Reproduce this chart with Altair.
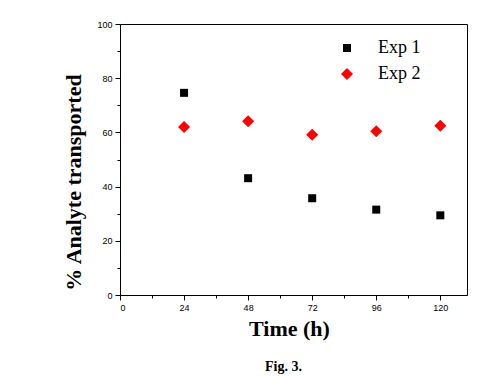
import altair as alt
import pandas as pd

# ---- data ----
time_h = [24, 48, 72, 96, 120]
exp1 = [74.6, 43.1, 35.7, 31.5, 29.4]
exp2 = [62.0, 64.1, 59.1, 60.4, 62.5]
series = ["Exp 1", "Exp 2"]
x_major = [0, 24, 48, 72, 96, 120]
x_minor = [12, 36, 60, 84, 108]
y_major = [0, 20, 40, 60, 80, 100]
y_minor = [10, 30, 50, 70, 90]

df = pd.DataFrame({
    "time": time_h * 2,
    "value": exp1 + exp2,
    "series": [series[0]] * len(time_h) + [series[1]] * len(time_h),
})

SERIF = "Liberation Serif"
SANS = "Liberation Sans"
W, H = 347, 271

xscale = alt.Scale(domain=[0, 130], nice=False, zero=False)
yscale = alt.Scale(domain=[0, 100], nice=False)

legend = alt.Legend(
    title=None, orient="none", legendX=218, legendY=15,
    labelFont=SERIF, labelFontSize=18, labelColor="black",
    labelOffset=22, rowPadding=8, symbolStrokeWidth=0, padding=0,
)

TITLE_STYLE = dict(titleFont=SERIF, titleFontSize=22, titleFontWeight="bold", titleColor="black")

points = alt.Chart(df).mark_point(filled=True, opacity=1, strokeWidth=0).encode(
    x=alt.X("time:Q", scale=xscale, axis=alt.Axis(
        values=x_major, title="Time (h)", tickSize=5, labelPadding=3,
        titleX=169, titleY=40, titleBaseline="alphabetic", titleAlign="center",
        grid=False, **TITLE_STYLE)),
    y=alt.Y("value:Q", scale=yscale, axis=alt.Axis(
        values=y_major, title="% Analyte transported", tickSize=5, labelPadding=3,
        titleX=-40, titleY=158, titleBaseline="alphabetic", titleAlign="center",
        grid=False, **TITLE_STYLE)),
    shape=alt.Shape("series:N", scale=alt.Scale(domain=series, range=["square", "diamond"]), legend=legend),
    color=alt.Color("series:N", scale=alt.Scale(domain=series, range=["#000000", "#ff0000"]), legend=legend),
    size=alt.Size("series:N", scale=alt.Scale(domain=series, range=[64, 144]), legend=legend),
)

minor = alt.Chart(df).mark_point(opacity=0).encode(
    x=alt.X("time:Q", scale=xscale, axis=alt.Axis(
        values=x_minor, labels=False, domain=False, tickSize=3, title=None,
        orient="bottom", grid=False)),
    y=alt.Y("value:Q", scale=yscale, axis=alt.Axis(
        values=y_minor, labels=False, domain=False, tickSize=3, title=None,
        orient="left", grid=False)),
)

chart = alt.layer(points, minor).resolve_axis(x="independent", y="independent").properties(
    width=W, height=H,
    background="white",
    padding={"left": 112, "top": 16, "right": 3, "bottom": 80},
    autosize=alt.AutoSizeParams(type="none"),
    title=alt.TitleParams("Fig. 3.", orient="bottom", font=SERIF, fontSize=14,
                          fontWeight="bold", color="black", offset=21, dx=-10),
).configure_view(
    stroke="black", strokeWidth=1
).configure_axis(
    domainColor="black", tickColor="black", domainWidth=1, tickWidth=1,
    labelFont=SANS, labelFontSize=9, labelColor="black",
    titleFont=SERIF, titleFontSize=22, titleFontWeight="bold", titleColor="black",
)

chart.save("out.html", embed_options={"renderer": "svg", "actions": False})
